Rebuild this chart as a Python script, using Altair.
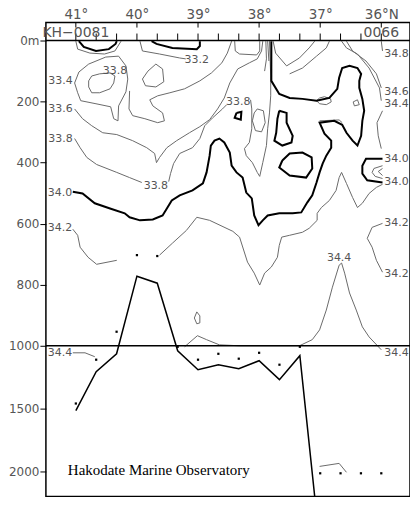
import altair as alt
import pandas as pd

# ---------------- data read from the section (latitude °N, depth m) ----------------
degrees = [41, 40, 39, 38, 37, 36]
stations = [41.0, 40.667, 40.333, 40.0, 39.667, 39.333, 39.0, 38.667, 38.333, 38.0,
            37.667, 37.333, 37.0, 36.667, 36.333, 36.0]
station_names = ["KH\u22120081", "0066"]
station_name_lat = [41.0, 36.0]

# deepest sampling points
dot_lat = stations
dot_depth = [1460, 1111, 954, 703, 706, 1008, 1111, 1064, 1103, 1056, 1151, 1008,
             2016, 2016, 2016, 2016]

# sea bottom profile
bottom_lat = [41.0, 40.667, 40.333, 40.0, 39.667, 39.333, 39.0, 38.667, 38.333, 38.0,
              37.667, 37.333, 37.09]
bottom_depth = [1516, 1206, 1064, 772, 795, 1040, 1191, 1151, 1183, 1119, 1270, 1079, 2200]

ref_depths = [0, 1000]

# ---- thick isohalines ----
c340_main = [(41.05,495),(40.89,501),(40.69,533),(40.44,550),(40.20,566),(40.12,579),(39.95,589),
             (39.74,586),(39.58,573),(39.50,547),(39.43,524),(39.30,507),(39.09,491),(38.92,468),
             (38.86,432),(38.81,377),(38.79,344),(38.73,328),(38.65,321),(38.57,334),(38.48,367),
             (38.45,410),(38.37,432),(38.27,449),(38.21,498),(38.12,517),(38.08,573),(38.01,605),
             (37.94,589),(37.86,573),(37.67,566),(37.45,566),(37.31,563),(37.21,530),(37.13,507),
             (37.06,465),(37.01,432),(36.96,403),(36.90,377),(36.82,351),(36.82,328),(36.93,305),
             (37.01,269),(36.77,263),(36.64,276),(36.57,302),(36.47,328),(36.39,344),(36.33,312),
             (36.31,263),(36.28,230),(36.31,191),(36.36,155),(36.36,132),(36.33,109),(36.39,90),
             (36.52,83),(36.64,90),(36.69,122),(36.72,158),(36.85,188),(37.06,197),(37.29,191),
             (37.50,188),(37.67,175),(37.80,132),(37.80,67),(37.80,2)]
c340_loop1 = [(37.62,393),(37.50,370),(37.29,367),(37.14,383),(37.13,419),(37.23,449),(37.50,442),
              (37.67,416),(37.62,393)]
c340_loop2 = [(37.67,230),(37.55,237),(37.55,269),(37.45,312),(37.47,334),(37.62,344),(37.75,328),
              (37.72,302),(37.70,256),(37.67,230)]
c340_loop3 = [(38.37,237),(38.29,233),(38.30,259),(38.40,253),(38.37,237)]
c340_east = [(35.98,387),(36.25,387),(36.31,410),(36.31,436),(36.23,458),(35.98,465)]
c330_west = [(40.95,2),(40.87,21),(40.67,34),(40.46,28),(40.35,11),(40.33,2)]
c330_mid = [(39.76,2),(39.68,11),(39.42,24),(39.02,28),(38.97,18),(38.97,2)]

# ---- thin isohalines ----
c332_west = [(41.00,2),(40.97,28),(40.77,41),(40.53,44),(40.36,34),(40.26,2)]
c332_mid = [(39.95,2),(39.91,34),(39.63,44),(39.30,57),(39.20,60)]
c334_loop = [(41.02,139),(40.95,103),(40.79,77),(40.51,54),(40.30,51),(40.18,83),(40.15,126),
             (40.18,168),(40.30,214),(40.31,263),(40.38,256),(40.43,217),(40.67,207),(40.92,197),
             (40.97,171),(41.02,139)]
c338_inner = [(40.79,132),(40.74,116),(40.61,109),(40.44,106),(40.36,116),(40.38,139),(40.44,158),
              (40.61,171),(40.74,171),(40.79,152),(40.79,132)]
c336_tri = [(39.69,77),(39.58,93),(39.56,135),(39.69,152),(39.86,148),(39.91,126),(39.82,100),
            (39.69,77)]
c336_mid = [(40.12,165),(40.13,224),(40.07,246),(39.87,256),(39.66,269),(39.55,263),(39.58,237),
            (39.74,214),(39.79,194),(39.66,181),(39.46,171),(39.22,158),(38.97,132),(38.78,106),
            (38.61,73),(38.52,41),(38.45,2)]
c336_west = [(41.02,224),(40.89,256),(40.74,279),(40.56,302),(40.33,308),(40.07,328),(39.84,351),
             (39.71,370),(39.68,400),(39.63,383),(39.51,351),(39.35,328),(39.14,302),(38.97,282),
             (38.81,259),(38.68,224),(38.57,188),(38.48,139),(38.35,93),(38.16,73),(38.03,60),
             (37.96,34),(37.94,2)]
c338_a = [(41.02,321),(40.93,351),(40.82,383),(40.66,406),(40.33,432),(40.12,449),(39.92,465)]
c338_b = [(39.48,462),(39.45,436),(39.40,403),(39.30,370),(39.09,351),(38.97,321),(38.89,279),
          (38.76,253),(38.60,224),(38.53,210)]
c338_c = [(38.14,194),(38.12,224),(38.12,289),(38.16,334),(38.24,354),(38.21,377),(38.11,400),
          (38.03,432),(37.99,445),(37.94,400),(37.88,344),(37.86,289),(37.83,237),(37.81,181),
          (37.81,116),(37.83,2)]
c338_loop = [(38.03,224),(37.93,230),(37.90,269),(37.96,299),(38.06,295),(38.11,263),(38.08,237),
             (38.03,224)]
c342_a = [(41.05,618),(40.97,638),(40.93,677),(40.80,710),(40.66,733),(40.33,720)]
c342_b = [(39.63,703),(39.42,664),(39.19,622),(39.02,579),(38.81,589),(38.43,625),(38.32,644),
          (38.19,726),(38.08,762),(37.99,801),(37.91,762),(37.80,742),(37.70,710),(37.67,671),
          (37.63,644),(37.50,638),(37.29,628),(37.18,615),(37.05,589),(37.05,566),(36.98,547),
          (36.85,524),(36.74,491),(36.69,449),(36.65,432),(36.57,468),(36.47,514),(36.39,547),
          (36.31,533),(36.20,501),(36.08,481),(35.98,471)]
c342_east = [(35.98,599),(36.15,612),(36.23,648),(36.15,677),(36.08,720),(35.98,759)]
c344_main = [(39.22,1008),(39.01,967),(38.86,980),(38.65,997),(38.32,1000),(37.34,1000),(37.13,980),
             (37.01,948),(36.90,883),(36.80,808),(36.69,736),(36.65,729),(36.60,762),(36.52,827),
             (36.41,883),(36.31,938),(36.20,971),(36.00,1032)]
c344_west = [(41.05,1056),(40.85,1056),(40.69,1087)]
c344_loop = [(39.02,889),(38.97,902),(38.97,925),(39.02,928),(39.06,909),(39.02,889)]
c346_deep = [(37.01,1961),(36.69,1937),(36.57,2008)]
c348_east = [(36.00,2),(35.98,34)]
c346_east = [(36.57,2),(36.47,34),(36.25,67),(36.08,109),(36.00,155)]
c344_east = [(36.65,2),(36.57,24),(36.39,44),(36.20,90),(36.03,155),(36.00,197)]
c344_east2 = [(35.98,230),(36.07,269),(36.05,312),(36.00,354)]
c_front_u = [(38.40,2),(38.39,34),(38.32,44),(38.04,47),(37.99,34),(37.99,2)]
c_front_1 = [(37.89,2),(37.88,60),(37.91,100)]
c_front_2 = [(37.86,2),(37.84,67)]
c_front_v = [(37.77,2),(37.73,41),(37.55,83),(37.34,57),(37.18,24),(37.09,2)]
c_nw = [(37.50,109),(37.29,90),(37.06,51),(36.90,24),(36.85,2)]
c_ellipse = [(37.06,197),(37.01,188),(36.93,184),(36.83,191),(36.82,201),(36.90,210),(37.01,207),
             (37.06,197)]
c_small = [(36.46,201),(36.39,194),(36.36,210),(36.44,214),(36.46,201)]
c_finger = [(37.01,263),(36.69,260),(36.64,269)]
c_arc1 = [(35.98,410),(36.12,419),(36.15,432),(36.10,445),(35.98,452)]
c_arc2 = [(35.98,419),(36.05,429),(35.98,442)]

thick_lines = {"c340_main": c340_main, "c340_loop1": c340_loop1, "c340_loop2": c340_loop2,
               "c340_loop3": c340_loop3, "c340_east": c340_east, "c330_west": c330_west,
               "c330_mid": c330_mid}
thin_lines = {"c332_west": c332_west, "c332_mid": c332_mid, "c334_loop": c334_loop,
              "c338_inner": c338_inner, "c336_tri": c336_tri, "c336_mid": c336_mid,
              "c336_west": c336_west, "c338_a": c338_a, "c338_b": c338_b, "c338_c": c338_c,
              "c338_loop": c338_loop, "c342_a": c342_a, "c342_b": c342_b, "c342_east": c342_east,
              "c344_main": c344_main, "c344_west": c344_west, "c344_loop": c344_loop,
              "c346_deep": c346_deep, "c348_east": c348_east, "c346_east": c346_east,
              "c344_east": c344_east, "c344_east2": c344_east2, "c_front_u": c_front_u,
              "c_front_1": c_front_1, "c_front_2": c_front_2, "c_front_v": c_front_v,
              "c_nw": c_nw, "c_ellipse": c_ellipse, "c_small": c_small, "c_finger": c_finger,
              "c_arc1": c_arc1, "c_arc2": c_arc2}

label_text = ["33.4", "33.6", "33.8", "34.0", "34.2", "34.4", "33.8", "33.2", "33.8", "33.8",
              "34.8", "34.6", "34.4", "34.0", "34.0", "34.2", "34.2", "34.4", "34.4"]
label_lat = [41.25, 41.25, 41.25, 41.26, 41.26, 41.26, 39.69, 39.02, 38.34, 40.36,
             35.75, 35.75, 35.75, 35.75, 35.75, 35.75, 35.75, 36.69, 35.75]
label_depth = [132, 224, 321, 498, 615, 1056, 478, 64, 201, 100,
               44, 168, 207, 387, 462, 599, 765, 713, 1056]

credit = ["Hakodate Marine Observatory"]


# ---------------- helpers ----------------
def to_frame(dct):
    rows = []
    for name, pts in dct.items():
        for i, (la, de) in enumerate(pts):
            rows.append({"id": name, "o": i, "lat": la, "depth": de})
    return pd.DataFrame(rows)


GREY = "#555555"

xs = alt.Scale(domain=[41.49, 35.53], nice=False, zero=False)
ys = alt.Scale(domain=[-59, 1000, 2200], range=[0, 324, 475], nice=False, zero=False)

top_axis = alt.Axis(orient="top", values=degrees,
                    labelExpr="datum.value == 36 ? '36°N' : datum.value + '°'",
                    tickSize=0, domain=False, grid=False, title=None, labelFlush=False,
                    labelFont="DejaVu Sans", labelFontSize=13.5, labelColor=GREY,
                    labelBaseline="alphabetic", labelPadding=4)
left_axis = alt.Axis(orient="left", values=[0, 200, 400, 600, 800, 1000, 1500, 2000],
                     labelExpr="datum.value == 0 ? '0m' : '' + datum.value",
                     tickSize=6, tickColor="black", domain=False, grid=False, title=None,
                     labelFont="DejaVu Sans", labelFontSize=12, labelColor=GREY, labelPadding=1,
                     labelFlush=False)


def X():
    return alt.X("lat:Q", scale=xs, axis=top_axis)


def Y():
    return alt.Y("depth:Q", scale=ys, axis=left_axis)


deg_df = pd.DataFrame({"lat": degrees})
deg_ticks = alt.Chart(deg_df).mark_rule(color="black", strokeWidth=1).encode(
    x=X(), y=alt.value(0), y2=alt.value(5))

st_df = pd.DataFrame({"lat": stations})
st_ticks = alt.Chart(st_df).mark_rule(color="black", strokeWidth=1).encode(
    x=X(), y=alt.value(11), y2=alt.value(18))

st_names = alt.Chart(pd.DataFrame({"lat": station_name_lat, "t": station_names})).mark_text(
    font="DejaVu Sans", fontSize=14, color=GREY, baseline="alphabetic", align="center").encode(
    x=X(), y=alt.value(14.5), text="t:N")

hlines = alt.Chart(pd.DataFrame({"depth": ref_depths})).mark_rule(
    color="black", strokeWidth=1.5).encode(y=Y())

thin = alt.Chart(to_frame(thin_lines)).mark_line(color="#6a6a6a", strokeWidth=1).encode(
    x=X(), y=Y(), detail="id:N", order="o:Q")
thick = alt.Chart(to_frame(thick_lines)).mark_line(color="black", strokeWidth=2).encode(
    x=X(), y=Y(), detail="id:N", order="o:Q")

labels = alt.Chart(pd.DataFrame({"lat": label_lat, "depth": label_depth, "t": label_text})).mark_text(
    font="DejaVu Sans", fontSize=11, color=GREY, baseline="middle", align="center").encode(
    x=X(), y=Y(), text="t:N")

bottom = alt.Chart(pd.DataFrame({"lat": bottom_lat, "depth": bottom_depth,
                                 "o": list(range(len(bottom_lat)))})).mark_line(
    color="black", strokeWidth=1.5).encode(x=X(), y=Y(), order="o:Q")

dots = alt.Chart(pd.DataFrame({"lat": dot_lat, "depth": dot_depth})).mark_square(
    size=5, color="black", opacity=1).encode(x=X(), y=Y())

credit_txt = alt.Chart(pd.DataFrame({"t": credit})).mark_text(
    font="Liberation Serif", fontSize=15, color="black", align="left", baseline="alphabetic").encode(
    x=alt.value(22), y=alt.value(454), text="t:N")

chart = alt.layer(thin, thick, hlines, bottom, dots, labels, deg_ticks, st_ticks, st_names,
                  credit_txt).properties(
    width=365, height=475,
    autosize=alt.AutoSizeParams(type="none"),
    padding={"left": 38, "top": 14, "right": 0, "bottom": 0},
    background="white",
).configure_view(stroke="black", strokeWidth=1.5)

chart.save("out.html", embed_options={"renderer": "svg", "actions": False})
